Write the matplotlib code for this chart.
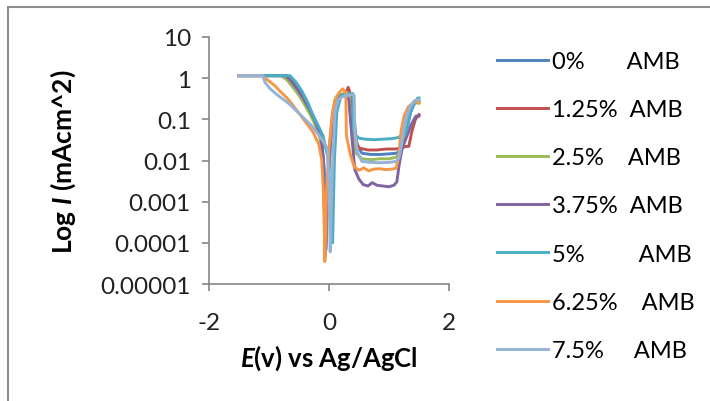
import numpy as np
import matplotlib as mpl
mpl.use('Agg')
import matplotlib.pyplot as plt
from matplotlib.patches import Rectangle

mpl.rcParams['font.family'] = 'Lato'
mpl.rcParams['font.size'] = 17.5
mpl.rcParams['mathtext.fontset'] = 'custom'
mpl.rcParams['mathtext.it'] = 'Lato:bold:italic'
mpl.rcParams['mathtext.rm'] = 'Lato:bold'

labels = ['0%       AMB', '1.25%  AMB', '2.5%    AMB', '3.75%  AMB',
          '5%         AMB', '6.25%    AMB', '7.5%     AMB']
colors = ['#4F81BD', '#C0504D', '#9BBB59', '#8064A2', '#4BACC6', '#F79646', '#95B3D7']

# potential (V vs Ag/AgCl) and current density (mA/cm^2) for each AMB loading
E_0 = [-1.5, -0.7, -0.6, -0.5, -0.4, -0.3, -0.2, -0.12, -0.08, -0.05, -0.02, 0.03, 0.08, 0.13, 0.2,
       0.3, 0.37, 0.42, 0.46, 0.55, 0.7, 0.85, 1.0, 1.12, 1.18, 1.24, 1.3, 1.36, 1.43, 1.5]
I_0 = [1.15, 1.15, 0.8, 0.5, 0.3, 0.15, 0.075, 0.033, 0.006, 0.00007, 0.002, 0.03, 0.15, 0.33, 0.38,
       0.4, 0.42, 0.1, 0.025, 0.015, 0.014, 0.014, 0.0145, 0.015, 0.017, 0.025, 0.06, 0.15, 0.25, 0.28]

E_125 = [-1.5, -0.75, -0.65, -0.55, -0.45, -0.35, -0.25, -0.15, -0.1, -0.06, -0.03, 0.0, 0.05, 0.1,
         0.18, 0.27, 0.32, 0.34, 0.37, 0.42, 0.5, 0.65, 0.8, 0.95, 1.1, 1.22, 1.27, 1.33, 1.38, 1.44, 1.5]
I_125 = [1.15, 1.15, 0.85, 0.55, 0.33, 0.18, 0.09, 0.04, 0.012, 0.00005, 0.001, 0.01, 0.1, 0.28,
         0.35, 0.4, 0.6, 0.5, 0.15, 0.04, 0.02, 0.018, 0.018, 0.019, 0.019, 0.02, 0.022, 0.022, 0.05, 0.1, 0.13]

E_25 = [-1.5, -0.8, -0.7, -0.6, -0.5, -0.4, -0.3, -0.2, -0.12, -0.09, -0.06, -0.03, 0.02, 0.07, 0.12,
        0.2, 0.3, 0.34, 0.38, 0.45, 0.55, 0.7, 0.85, 1.0, 1.12, 1.18, 1.23, 1.3, 1.36, 1.42, 1.5]
I_25 = [1.15, 1.15, 0.9, 0.6, 0.38, 0.22, 0.12, 0.06, 0.025, 0.004, 0.000045, 0.001, 0.03, 0.18, 0.35,
        0.4, 0.45, 0.35, 0.05, 0.015, 0.011, 0.0105, 0.011, 0.011, 0.012, 0.015, 0.03, 0.1, 0.2, 0.25, 0.25]

E_375 = [-1.5, -0.72, -0.62, -0.52, -0.42, -0.32, -0.22, -0.13, -0.09, -0.06, -0.03, 0.02, 0.07, 0.12,
         0.2, 0.28, 0.33, 0.38, 0.43, 0.5, 0.57, 0.65, 0.72, 0.8, 0.9, 1.0, 1.08, 1.13, 1.17, 1.22, 1.3,
         1.38, 1.45, 1.5]
I_375 = [1.15, 1.15, 0.82, 0.52, 0.31, 0.17, 0.085, 0.035, 0.008, 0.00006, 0.002, 0.03, 0.15, 0.32,
         0.38, 0.4, 0.3, 0.04, 0.006, 0.0035, 0.0026, 0.0024, 0.0029, 0.0025, 0.0024, 0.0023, 0.0025,
         0.003, 0.008, 0.02, 0.04, 0.08, 0.12, 0.12]

E_5 = [-1.5, -0.65, -0.55, -0.45, -0.35, -0.27, -0.18, -0.1, -0.02, 0.02, 0.05, 0.06, 0.09, 0.13, 0.2,
       0.3, 0.4, 0.41, 0.45, 0.5, 0.6, 0.75, 0.9, 1.05, 1.15, 1.2, 1.27, 1.3, 1.36, 1.42, 1.48, 1.5]
I_5 = [1.15, 1.15, 0.8, 0.48, 0.25, 0.13, 0.07, 0.04, 0.012, 0.002, 0.00025, 0.0001, 0.01, 0.15, 0.38,
       0.42, 0.42, 0.06, 0.04, 0.035, 0.033, 0.032, 0.033, 0.034, 0.036, 0.04, 0.042, 0.06, 0.15, 0.25,
       0.33, 0.33]

E_625 = [-1.5, -1.12, -1.0, -0.9, -0.82, -0.7, -0.6, -0.53, -0.4, -0.27, -0.17, -0.12, -0.09, -0.07,
         -0.04, 0.0, 0.05, 0.1, 0.17, 0.23, 0.28, 0.29, 0.35, 0.42, 0.5, 0.58, 0.66, 0.75, 0.85, 0.95,
         1.05, 1.12, 1.16, 1.2, 1.25, 1.32, 1.4, 1.47, 1.5]
I_625 = [1.15, 1.15, 0.85, 0.65, 0.49, 0.33, 0.22, 0.16, 0.09, 0.05, 0.025, 0.01, 0.0015, 0.000035,
         0.002, 0.02, 0.12, 0.3, 0.45, 0.55, 0.45, 0.04, 0.015, 0.007, 0.0058, 0.0066, 0.0056, 0.0062,
         0.0063, 0.006, 0.0062, 0.0065, 0.012, 0.05, 0.12, 0.2, 0.25, 0.3, 0.25]

E_75 = [-1.5, -1.1, -1.07, -0.98, -0.85, -0.65, -0.5, -0.4, -0.27, -0.15, -0.03, 0.0, 0.02, 0.05,
        0.1, 0.15, 0.22, 0.3, 0.38, 0.42, 0.43, 0.48, 0.55, 0.7, 0.85, 1.0, 1.12, 1.17, 1.22, 1.28, 1.35,
        1.42, 1.5]
I_75 = [1.15, 1.15, 0.8, 0.55, 0.38, 0.23, 0.14, 0.1, 0.065, 0.038, 0.02, 0.003, 0.00006, 0.004,
        0.15, 0.3, 0.35, 0.38, 0.4, 0.38, 0.05, 0.015, 0.0095, 0.009, 0.0088, 0.009, 0.0095, 0.012, 0.03,
        0.1, 0.2, 0.28, 0.3]

E_all = [E_0, E_125, E_25, E_375, E_5, E_625, E_75]
I_all = [I_0, I_125, I_25, I_375, I_5, I_625, I_75]

fig = plt.figure(figsize=(7.1, 4.02), dpi=100)
ax = fig.add_axes([209/710, 1-285/402, 240/710, 247/402])

for E, I, c, lab in zip(E_all, I_all, colors, labels):
    ax.plot(E, I, color=c, lw=2.1, label=lab, solid_joinstyle='round')

ax.set_yscale('log')
ax.set_ylim(1e-5, 10)
ax.set_xlim(-2, 2)
yt = [1e-5, 1e-4, 1e-3, 1e-2, 1e-1, 1, 10]
ax.set_yticks(yt)
ax.set_yticklabels(['0.00001', '0.0001', '0.001', '0.01', '0.1', '1', '10'])
ax.minorticks_off()
ax.set_xticks([-2, 0, 2])
ax.set_xticklabels(['-2', '0', '2'])

for s in ['top', 'right']:
    ax.spines[s].set_visible(False)
for s in ['left', 'bottom']:
    ax.spines[s].set_color('#868686')
    ax.spines[s].set_linewidth(1.2)
ax.tick_params(length=5, width=1.2, color='#868686', labelcolor='#222222')
ax.tick_params(axis='y', pad=8)
ax.tick_params(axis='x', pad=15)

ax.set_xlabel(r'$E$(v) vs Ag/AgCl', fontweight='bold', fontsize=18.5, labelpad=7)
ax.set_ylabel(r'Log $I$ (mAcm^2)', fontweight='bold', fontsize=19, labelpad=16)

fig.legend(loc='upper left', bbox_to_anchor=(497/710, 1-52/402), frameon=False,
           borderpad=0, borderaxespad=0, handlelength=2.15, handletextpad=0.2,
           labelspacing=1.15, fontsize=17)

# outer frame
fig.patches.append(Rectangle((8/710, -0.1), 1.2, 1.1-8/402, transform=fig.transFigure,
                             fill=False, edgecolor='#8c8c8c', lw=1.5))

fig.savefig('out.png', dpi=100)
